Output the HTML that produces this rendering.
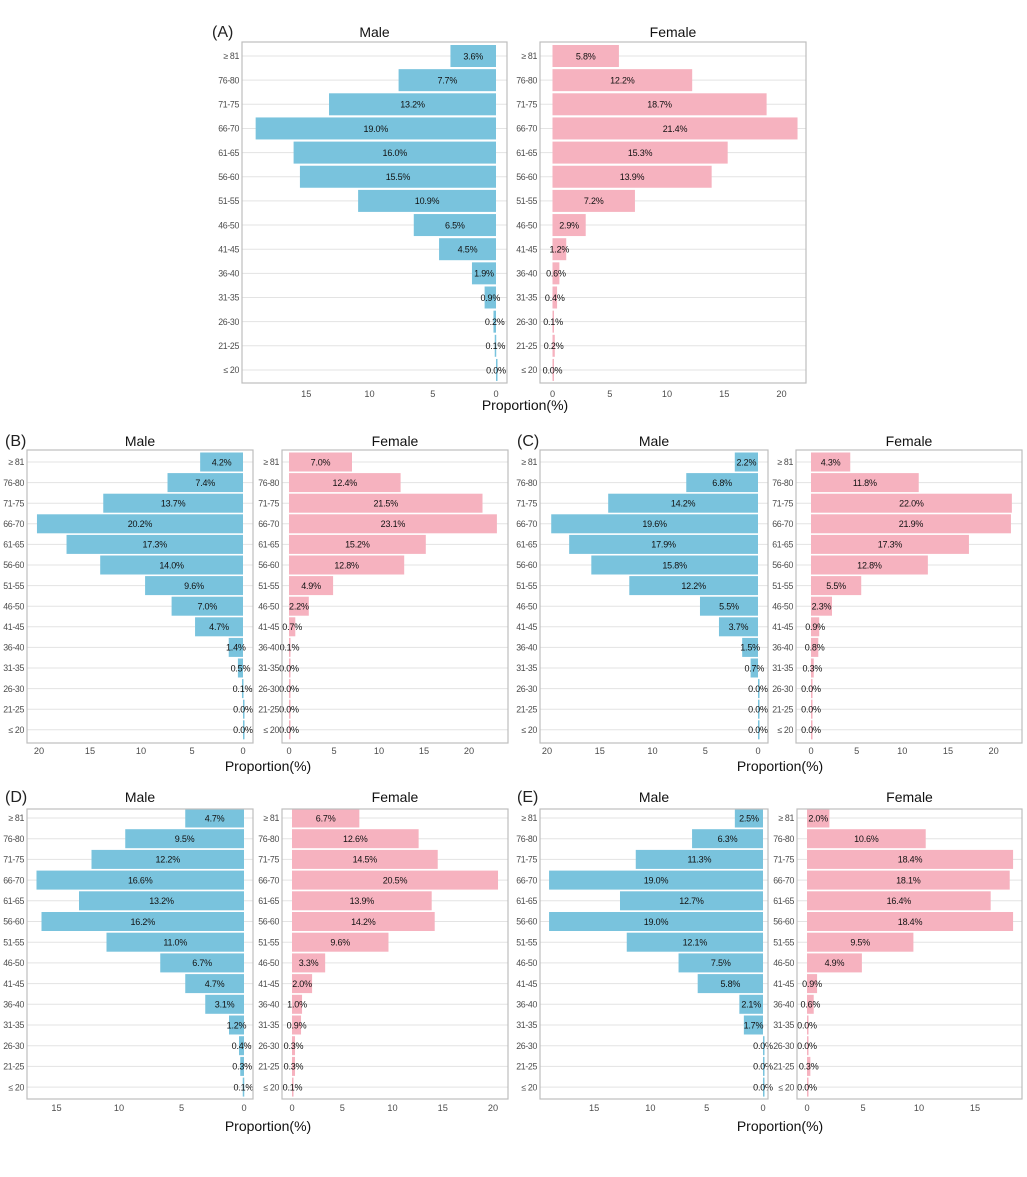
<!DOCTYPE html>
<html><head><meta charset="utf-8"><style>
body{margin:0;background:#fff;}
svg{display:block;font-family:"Liberation Sans",Arial,sans-serif;}
</style></head><body>
<svg id="chart" width="1027" height="1177" viewBox="0 0 1027 1177" xmlns="http://www.w3.org/2000/svg"></svg>
<script>
const ageGroups = ["≥ 81","76-80","71-75","66-70","61-65","56-60","51-55","46-50","41-45","36-40","31-35","26-30","21-25","≤ 20"];
const maleA = [3.6,7.7,13.2,19.0,16.0,15.5,10.9,6.5,4.5,1.9,0.9,0.2,0.1,0.0];
const femaleA = [5.8,12.2,18.7,21.4,15.3,13.9,7.2,2.9,1.2,0.6,0.4,0.1,0.2,0.0];
const maleB = [4.2,7.4,13.7,20.2,17.3,14.0,9.6,7.0,4.7,1.4,0.5,0.1,0.0,0.0];
const femaleB = [7.0,12.4,21.5,23.1,15.2,12.8,4.9,2.2,0.7,0.1,0.0,0.0,0.0,0.0];
const maleC = [2.2,6.8,14.2,19.6,17.9,15.8,12.2,5.5,3.7,1.5,0.7,0.0,0.0,0.0];
const femaleC = [4.3,11.8,22.0,21.9,17.3,12.8,5.5,2.3,0.9,0.8,0.3,0.0,0.0,0.0];
const maleD = [4.7,9.5,12.2,16.6,13.2,16.2,11.0,6.7,4.7,3.1,1.2,0.4,0.3,0.1];
const femaleD = [6.7,12.6,14.5,20.5,13.9,14.2,9.6,3.3,2.0,1.0,0.9,0.3,0.3,0.1];
const maleE = [2.5,6.3,11.3,19.0,12.7,19.0,12.1,7.5,5.8,2.1,1.7,0.0,0.0,0.0];
const femaleE = [2.0,10.6,18.4,18.1,16.4,18.4,9.5,4.9,0.9,0.6,0.0,0.0,0.3,0.0];
const maleTicksA = [15,10,5,0], femaleTicksA = [0,5,10,15,20];
const maleTicksBC = [20,15,10,5,0], femaleTicksBC = [0,5,10,15,20];
const maleTicksD = [15,10,5,0], femaleTicksD = [0,5,10,15,20];
const maleTicksE = [15,10,5,0], femaleTicksE = [0,5,10,15];

const NS="http://www.w3.org/2000/svg";
const svg=document.getElementById('chart');
function mk(tag,attrs,parent,txt){const e=document.createElementNS(NS,tag);for(const k in attrs)e.setAttribute(k,attrs[k]);if(txt!==undefined)e.textContent=txt;(parent||svg).appendChild(e);return e;}

const panels=[
 {id:'a',label:'(A)',lx:212,male:maleA,female:femaleA,mt:maleTicksA,ft:femaleTicksA,
  mL:242,mR:507,m0:496,ms:12.65,fL:540,fR:806,f0:552.5,fs:11.45,top:42,bot:383,r0:56,step:24.15,bh:22,tickY:397,titleY:410,titleX:525,headY:37},
 {id:'b',label:'(B)',lx:5,male:maleB,female:femaleB,mt:maleTicksBC,ft:femaleTicksBC,
  mL:27,mR:253,m0:243,ms:10.2,fL:282,fR:508,f0:289,fs:9.0,top:450,bot:743,r0:462,step:20.6,bh:19,tickY:754,titleY:771,titleX:268,headY:446},
 {id:'c',label:'(C)',lx:517,male:maleC,female:femaleC,mt:maleTicksBC,ft:femaleTicksBC,
  mL:540,mR:768,m0:758,ms:10.55,fL:796,fR:1022,f0:811,fs:9.13,top:450,bot:743,r0:462,step:20.6,bh:19,tickY:754,titleY:771,titleX:780,headY:446},
 {id:'d',label:'(D)',lx:5,male:maleD,female:femaleD,mt:maleTicksD,ft:femaleTicksD,
  mL:27,mR:253,m0:244,ms:12.5,fL:282,fR:508,f0:292,fs:10.05,top:809,bot:1099,r0:818,step:20.7,bh:19,tickY:1111,titleY:1131,titleX:268,headY:802},
 {id:'e',label:'(E)',lx:517,male:maleE,female:femaleE,mt:maleTicksE,ft:femaleTicksE,
  mL:540,mR:768,m0:763,ms:11.26,fL:797,fR:1022,f0:807,fs:11.2,top:809,bot:1099,r0:818,step:20.7,bh:19,tickY:1111,titleY:1131,titleX:780,headY:802}
];

panels.forEach(p=>{
  const g=mk('g',{});
  
  
  const pl=mk('text',{x:p.lx,y:p.headY,'font-size':16,fill:'#222'},g,p.label);
  
  
  const yOf=i=>p.r0+i*p.step;
  [['male',p.male,p.mL,p.mR,p.m0,-p.ms,p.mt,'#79c3dd','Male'],['female',p.female,p.fL,p.fR,p.f0,p.fs,p.ft,'#f6b2bf','Female']].forEach(([sex,vals,L,R,x0,s,ticks,col,title])=>{
    const sx=v=>x0+v*s;
    const h=mk('text',{x:(L+R)/2,y:p.headY,'font-size':14,'text-anchor':'middle',fill:'#111'},g,title);
    
    
    ageGroups.forEach((a,i)=>{
      const gl=mk('line',{x1:L,x2:R,y1:yOf(i),y2:yOf(i),stroke:'#e3e3e3','stroke-width':1},g);
      
      
      const t=mk('text',{x:L-3,y:yOf(i)+3.2,'font-size':8.8,'letter-spacing':-0.35,'text-anchor':'end',fill:'#4d4d4d'},g,a);
      
      
    });
    vals.forEach((v,i)=>{
      const xa=sx(0),xb=sx(v);
      const r=mk('rect',{x:Math.min(xa,xb),y:yOf(i)-p.bh/2,width:Math.max(Math.abs(xb-xa),1.5),height:p.bh,fill:col},g);
      
      
    });
    vals.forEach((v,i)=>{
      const t=mk('text',{x:sx(v/2),y:yOf(i)+3.3,'font-size':9,'letter-spacing':-0.2,'text-anchor':'middle',fill:'#111'},g,v.toFixed(1)+'%');
      
      
    });
    const fr=mk('rect',{x:L,y:p.top,width:R-L,height:p.bot-p.top,fill:'none',stroke:'#bdbdbd','stroke-width':1.2},g);
    
    
    ticks.forEach(tv=>{
      const t=mk('text',{x:sx(tv),y:p.tickY,'font-size':9.2,'text-anchor':'middle',fill:'#4d4d4d'},g,String(tv));
      
      
    });
  });
  const at=mk('text',{x:p.titleX,y:p.titleY,'font-size':14,'text-anchor':'middle',fill:'#111'},g,'Proportion(%)');
  
  
});
</script>
</body></html>
